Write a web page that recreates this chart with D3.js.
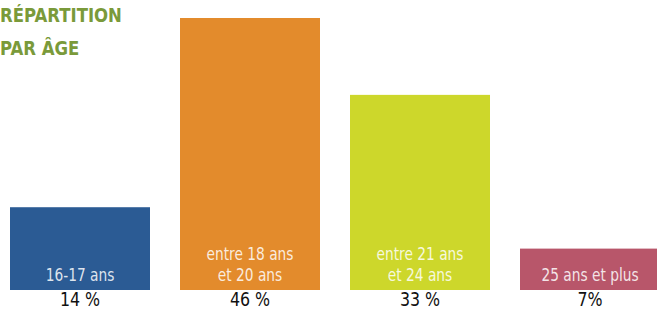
<!DOCTYPE html>
<html><head><meta charset="utf-8">
<script src="https://cdn.jsdelivr.net/npm/d3@7"></script>
<style>html,body{margin:0;padding:0;background:#fff;overflow:hidden}</style>
</head><body>
<script>
const categories = ["16-17 ans", "entre 18 ans|et 20 ans", "entre 21 ans|et 24 ans", "25 ans et plus"];
const values = [14, 46, 33, 7];
const valueLabels = ["14 %", "46 %", "33 %", "7%"];
const colors = ["#2b5b94", "#e38b2c", "#cdd72b", "#b8566a"];
const titleLines = ["RÉPARTITION", "PAR ÂGE"];

const W = 657, H = 311;
const svg = d3.select("body").append("svg").attr("width", W).attr("height", H);

const x = d3.scaleBand().domain(categories).range([10, 660]).paddingInner(30/170).paddingOuter(0);
const y = d3.scaleLinear().domain([0, 46]).range([290, 18]);

const FONT = "'DejaVu Sans Condensed', 'DejaVu Sans', sans-serif";

svg.selectAll("rect.bar").data(values).join("rect")
  .attr("class", "bar")
  .attr("x", (d, i) => x(categories[i]))
  .attr("width", x.bandwidth())
  .attr("y", d => y(d))
  .attr("height", d => y(0) - y(d))
  .attr("fill", (d, i) => colors[i]);

// labels inside bars
categories.forEach((c, i) => {
  const lines = c.split("|");
  const cx = x(c) + x.bandwidth() / 2;
  lines.forEach((ln, j) => {
    svg.append("text")
      .attr("transform", `translate(${cx},${y(0) - 9 - (lines.length - 1 - j) * 21}) scale(0.9,1)`)
      .attr("text-anchor", "middle")
      .attr("font-family", FONT)
      .attr("font-size", 17)
      .attr("fill", "#fff")
      .attr("fill-opacity", 0.85)
      .text(ln);
  });
});

// value labels under bars
svg.selectAll("text.val").data(valueLabels).join("text")
  .attr("class", "val")
  .attr("transform", (d, i) => `translate(${x(categories[i]) + x.bandwidth() / 2},306) scale(0.88,1)`)
  .attr("text-anchor", "middle")
  .attr("font-family", FONT)
  .attr("font-size", 20)
  .attr("fill", "#111")
  .text(d => d);

// title
titleLines.forEach((t, i) => {
  svg.append("text")
    .attr("transform", `translate(0,${22 + i * 33}) scale(0.92,1)`)
    .attr("font-family", FONT)
    .attr("font-weight", "bold")
    .attr("font-size", 20)
    .attr("fill", "#7a9a3a")
    .text(t);
});
</script>
</body></html>
